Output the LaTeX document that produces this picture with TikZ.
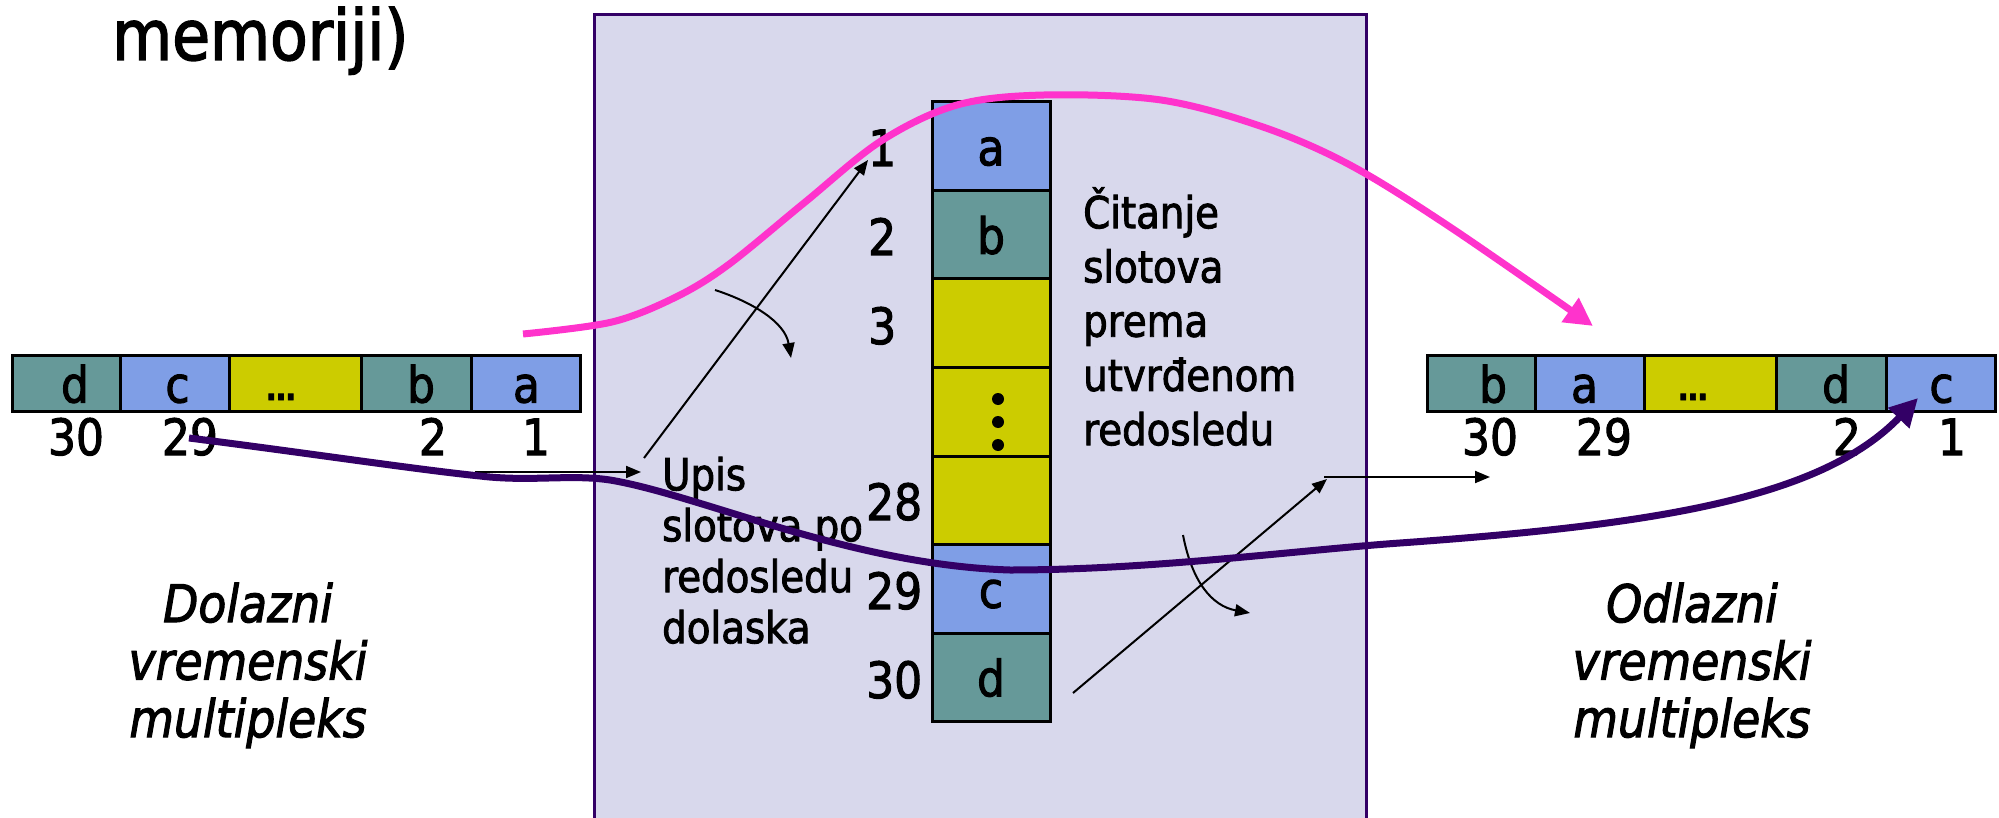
\documentclass[tikz,border=0pt]{standalone}
\usepackage{fontspec}
\newfontfamily\cf[FakeStretch=0.88,FakeBold=2]{DejaVu Sans}
\usetikzlibrary{arrows.meta}
\definecolor{tealc}{HTML}{669999}
\definecolor{bluec}{HTML}{7F9EE6}
\definecolor{yelc}{HTML}{CCCC00}
\definecolor{lavc}{HTML}{D8D8EC}
\definecolor{purc}{HTML}{330066}
\definecolor{pinkc}{HTML}{FF33CC}
\tikzset{
  slotbox/.style={draw=black, line width=3pt, inner sep=0pt, text height=38pt, text depth=0pt,
    font=\cf\fontsize{50}{55}\selectfont},
  rowbox/.style={slotbox, minimum height=56pt},
  colbox/.style={slotbox, minimum width=118pt, minimum height=88.5pt},
  numlbl/.style={inner sep=0pt, anchor=base, font=\cf\fontsize{50}{55}\selectfont},
  collbl/.style={inner sep=0pt, anchor=base west, font=\cf\fontsize{50}{55}\selectfont},
  dotslbl/.style={inner sep=0pt, anchor=base, font=\cf\bfseries\fontsize{33}{36}\selectfont},
  txtblk/.style={inner sep=0pt, anchor=north west, align=left},
  itblk/.style={inner sep=0pt, anchor=north, align=center},
  thinarrow/.style={draw=black, line width=2pt, -{Triangle[length=15pt,width=12pt]}},
  pinkline/.style={draw=pinkc, line width=7pt, -{Triangle[length=28pt,width=28pt]}},
  purpline/.style={draw=purc, line width=7pt, -{Triangle[length=28pt,width=28pt]}},
}
\begin{document}
\begin{tikzpicture}[x=1pt,y=-1pt]
\useasboundingbox (0,0) rectangle (1999,818);
\clip (0,0) rectangle (1999,818);

% memory region
\node[draw=purc, line width=3pt, fill=lavc, minimum width=772pt, minimum height=827pt,
      anchor=north west, inner sep=0pt] (mem) at (593,13) {};

% title fragment
\node[inner sep=0pt, anchor=base west, font=\cf\fontsize{70}{80}\selectfont] (title) at (112,60) {memoriji)};

% incoming multiplex
\node[rowbox, fill=tealc, minimum width=108pt] (LD) at (66,383.5) {\hspace*{18pt}d};
\node[rowbox, fill=bluec, minimum width=109pt] (LC) at (174.5,383.5) {\hspace*{6pt}c};
\node[rowbox, fill=yelc, minimum width=132pt] (LE) at (295,383.5) {};
\node[rowbox, fill=tealc, minimum width=110pt] (LB) at (416,383.5) {\hspace*{10pt}b};
\node[rowbox, fill=bluec, minimum width=109pt] (LA) at (525.5,383.5) {\hspace*{2pt}a};
\node[dotslbl] (LEdots) at (281,400) {…};
\node[numlbl] (l30) at (76,455) {30};
\node[numlbl] (l29) at (190,455) {29};
\node[numlbl] (l2) at (433,455) {2};
\node[numlbl] (l1) at (536,455) {1};

% outgoing multiplex
\node[rowbox, fill=tealc, minimum width=108pt] (RB) at (1481,383.5) {\hspace*{24pt}b};
\node[rowbox, fill=bluec, minimum width=109pt] (RA) at (1589.5,383.5) {a\hspace*{10pt}};
\node[rowbox, fill=yelc, minimum width=132pt] (RE) at (1710,383.5) {};
\node[rowbox, fill=tealc, minimum width=110pt] (RD) at (1831,383.5) {\hspace*{10pt}d};
\node[rowbox, fill=bluec, minimum width=109pt] (RC) at (1940.5,383.5) {\hspace*{2pt}c};
\node[dotslbl] (REdots) at (1693,400) {…};
\node[numlbl] (r30) at (1490,455) {30};
\node[numlbl] (r29) at (1604,455) {29};
\node[numlbl] (r2) at (1847,455) {2};
\node[numlbl] (r1) at (1952,455) {1};

% memory column
\node[colbox, fill=bluec] (M1) at (991,146.25) {a};
\node[colbox, fill=tealc] (M2) at (991,234.75) {b};
\node[colbox, fill=yelc] (M3) at (991,323.25) {};
\node[colbox, fill=yelc] (M4) at (991,411.75) {};
\node[colbox, fill=yelc] (M5) at (991,500.25) {};
\node[colbox, fill=bluec] (M6) at (991,588.75) {c};
\node[colbox, fill=tealc] (M7) at (991,677.25) {d};
\fill (998,399) circle (6pt) (998,422) circle (6pt) (998,445) circle (6pt);

\node[collbl] (n1) at (868,166) {1};
\node[collbl] (n2) at (868,255) {2};
\node[collbl] (n3) at (868,344) {3};
\node[collbl] (n28) at (866,520) {28};
\node[collbl] (n29) at (866,609) {29};
\node[collbl] (n30) at (866,698) {30};

% text blocks
\node[txtblk, font=\cf\fontsize{44}{51}\selectfont] (upis) at (662,445)
  {\rule{0pt}{45pt}Upis\\slotova po\\redosledu\\dolaska};
\node[txtblk, font=\cf\fontsize{44}{54.25}\selectfont] (citanje) at (1083,183)
  {\rule{0pt}{45pt}Čitanje\\slotova\\prema\\utvrđenom\\redosledu};
\node[itblk, font=\cf\itshape\fontsize{52}{57.5}\selectfont] (dolazni) at (248,572)
  {\rule{0pt}{50pt}Dolazni\\vremenski\\multipleks};
\node[itblk, font=\cf\itshape\fontsize{52}{57.5}\selectfont] (odlazni) at (1692,572)
  {\rule{0pt}{50pt}Odlazni\\vremenski\\multipleks};

% thin arrows
\coordinate (inS) at (475,472);
\coordinate (inT) at (641,472);
\coordinate (wrS) at (644,458);
\coordinate (wrT) at (868,160);
\coordinate (rotAS) at (715,290);
\coordinate (rotAT) at (791,358);
\coordinate (rdS) at (1073,693);
\coordinate (rdT) at (1327,479);
\coordinate (outS) at (1324,477);
\coordinate (outT) at (1490,477);
\coordinate (rotBS) at (1183,535);
\coordinate (rotBT) at (1250,613);
\draw[thinarrow] (inS) -- (inT);
\draw[thinarrow] (wrS) -- (wrT);
\draw[thinarrow] (rotAS) .. controls (752,302) and (785,322) .. (rotAT);
\draw[thinarrow] (rdS) -- (rdT);
\draw[thinarrow] (outS) -- (outT);
\draw[thinarrow] (rotBS) .. controls (1192,582) and (1212,606) .. (rotBT);

% thick curves
\coordinate (pinkS) at (523,334);
\coordinate (pinkT) at (1593,326);
\coordinate (purS) at (189,438);
\coordinate (purT) at (1918,398);
\draw[pinkline] plot[smooth, tension=0.55] coordinates {(pinkS) (612,322) (676,297) (728,265) (804,203) (881,141) (957,105) (1044,95) (1161,100) (1263,127) (1350,165) (1450,227) (pinkT)};
\draw[purpline] (purS) .. controls (300,452) and (420,470) .. (480,476)
  .. controls (530,482) and (570,474) .. (610,480)
  .. controls (700,495) and (850,565) .. (1010,570)
  .. controls (1150,570) and (1300,550) .. (1400,543)
  .. controls (1650,525) and (1820,500) .. (purT);
\end{tikzpicture}
\end{document}
